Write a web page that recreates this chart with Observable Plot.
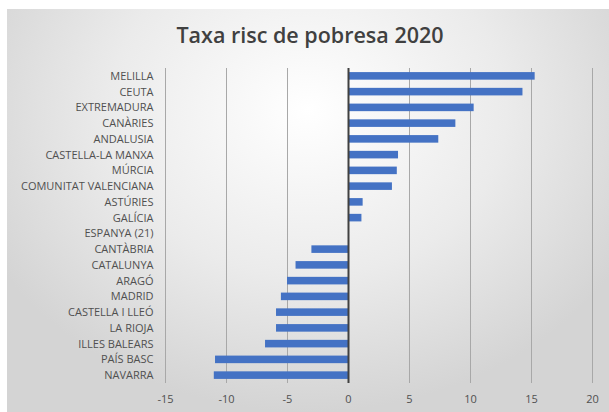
<!DOCTYPE html>
<html>
<head>
<meta charset="utf-8">
<script src="https://cdn.jsdelivr.net/npm/d3@7"></script>
<script src="https://cdn.jsdelivr.net/npm/@observablehq/plot@0.6"></script>
<style>
  html, body { margin: 0; padding: 0; background: #fff; }
  #frame {
    position: absolute; left: 7px; top: 9px; width: 602px; height: 403px;
    background: radial-gradient(ellipse 60% 75% at 50% 25%, #ffffff 0%, #ebebeb 55%, #d4d4d4 100%);
    overflow: hidden;
  }
  #title {
    height: 50px; line-height: 50px; padding-top: 1px; padding-left: 4px; box-sizing: border-box;
    text-align: center; font-family: "Open Sans", sans-serif; font-weight: 600;
    font-size: 21.5px; color: #404040;
  }
  #chart svg { display: block; background: transparent; }
</style>
</head>
<body>
<div id="frame">
  <div id="title">Taxa risc de pobresa 2020</div>
  <div id="chart"></div>
</div>
<script>
const regions = ["MELILLA", "CEUTA", "EXTREMADURA", "CANÀRIES", "ANDALUSIA", "CASTELLA-LA MANXA", "MÚRCIA", "COMUNITAT VALENCIANA", "ASTÚRIES", "GALÍCIA", "ESPANYA (21)", "CANTÀBRIA", "CATALUNYA", "ARAGÓ", "MADRID", "CASTELLA I LLEÓ", "LA RIOJA", "ILLES BALEARS", "PAÍS BASC", "NAVARRA"];
const values = [15.3, 14.3, 10.3, 8.8, 7.4, 4.1, 4.0, 3.6, 1.2, 1.1, 0, -3.0, -4.3, -5.0, -5.5, -5.9, -5.9, -6.8, -10.9, -11.0];
const xTicks = [-15, -10, -5, 0, 5, 10, 15, 20];

const data = regions.map((r, i) => ({region: r, value: values[i]}));

const chart = Plot.plot({
  width: 602,
  height: 353,
  marginTop: 9,
  marginBottom: 29,
  marginLeft: 158,
  marginRight: 17,
  style: {fontFamily: "Open Sans, sans-serif", fontSize: "11px", color: "#505050", background: "transparent"},
  x: {domain: [-15, 20], ticks: xTicks, tickFormat: d => String(d), tickSize: 0, tickPadding: 12, label: null},
  y: {domain: regions, paddingInner: 0.52, paddingOuter: 0.26, round: false, tickSize: 0, tickPadding: 12, label: null},
  marks: [
    Plot.gridX(xTicks, {stroke: "#a8a8a8", strokeOpacity: 1, strokeWidth: 1}),
    Plot.barX(data, {x: "value", y: "region", fill: "#4472C4"}),
    Plot.ruleX([0], {stroke: "#404040", strokeWidth: 2})
  ]
});
document.getElementById("chart").appendChild(chart);
</script>
</body>
</html>
